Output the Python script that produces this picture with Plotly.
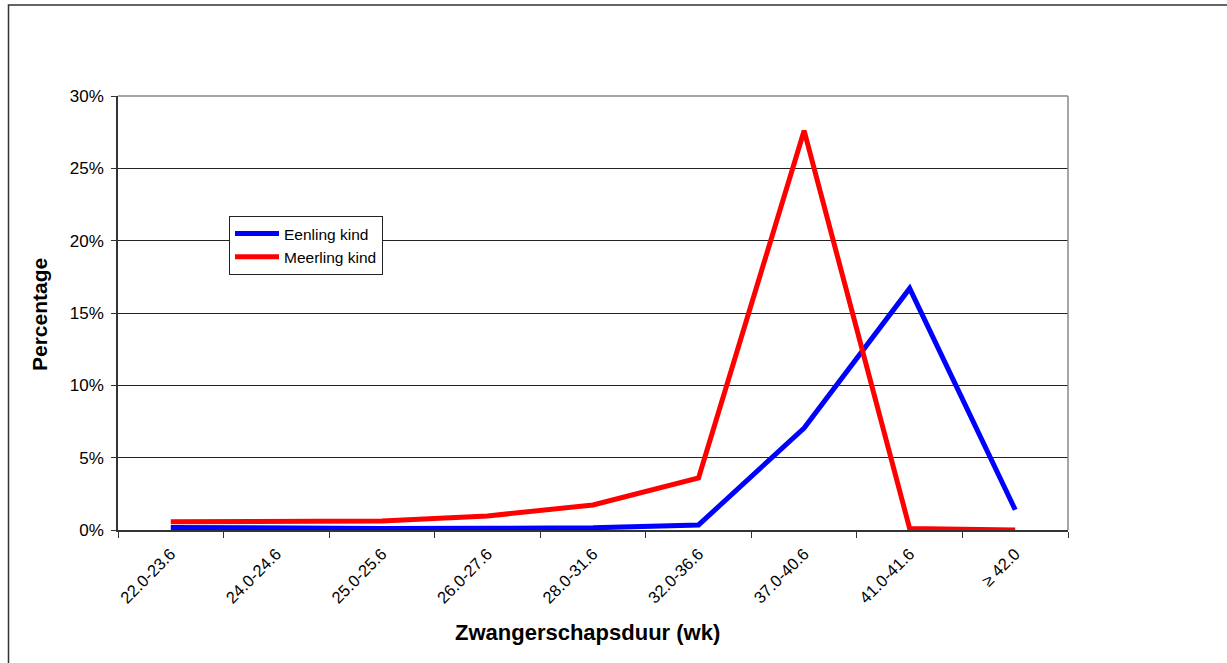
import plotly.graph_objects as go

categories = ["22.0-23.6", "24.0-24.6", "25.0-25.6", "26.0-27.6", "28.0-31.6",
              "32.0-36.6", "37.0-40.6", "41.0-41.6", "\u2265 42.0"]
eenling = [0.18, 0.12, 0.1, 0.12, 0.15, 0.35, 7.05, 16.7, 1.4]
meerling = [0.57, 0.62, 0.62, 0.97, 1.73, 3.6, 27.6, 0.1, 0.0]
y_ticks = [0, 5, 10, 15, 20, 25, 30]
y_ticktext = ["0%", "5%", "10%", "15%", "20%", "25%", "30%"]

W, H = 1227, 663
L, R, T, B = 118, 1068, 96, 530

def px_x(px):
    return (px - L) / (R - L)

def px_y(py):
    return (B - py) / (B - T)

fig = go.Figure()
fig.add_trace(go.Scatter(x=categories, y=eenling, mode="lines", name="Eenling kind",
                         line=dict(color="#0000FF", width=5)))
fig.add_trace(go.Scatter(x=categories, y=meerling, mode="lines", name="Meerling kind",
                         line=dict(color="#FF0000", width=5)))

fig.update_layout(
    width=W, height=H,
    margin=dict(l=L, r=W - R, t=T, b=H - B, autoexpand=False),
    paper_bgcolor="white", plot_bgcolor="white",
    font=dict(family="Arial, Liberation Sans, sans-serif", size=16, color="black"),
    showlegend=True,
    legend=dict(x=px_x(229), y=px_y(216), xanchor="left", yanchor="top",
                bordercolor="#222222", borderwidth=1, bgcolor="white",
                font=dict(size=15.5), tracegroupgap=0,
                itemwidth=44, entrywidth=150, entrywidthmode="pixels"),
    xaxis=dict(type="category", range=[-0.5, 8.5], tickangle=-45,
               tickson="boundaries", ticks="outside", ticklen=6, tickcolor="#333333",
               showline=True, linecolor="#333333", linewidth=1.5,
               showgrid=False, tickfont=dict(size=16.5), ticklabelstandoff=6),
    yaxis=dict(range=[0, 30], tickvals=y_ticks, ticktext=y_ticktext,
               ticks="outside", ticklen=5, tickcolor="#333333",
               showline=True, linecolor="#333333", linewidth=1.5,
               showgrid=True, gridcolor="#222222", gridwidth=1,
               zeroline=False, tickfont=dict(size=17), ticklabelstandoff=4),
    shapes=[
        # outer chart border
        dict(type="rect", xref="paper", yref="paper",
             x0=px_x(8.5), x1=px_x(1300), y0=px_y(700), y1=px_y(5),
             line=dict(color="#333333", width=1.5), layer="below"),
        # plot area right/top border (gray)
        dict(type="line", xref="paper", yref="paper", x0=1, x1=1, y0=0, y1=1,
             line=dict(color="#888888", width=1.5)),
        dict(type="line", xref="paper", yref="paper", x0=0, x1=1, y0=1, y1=1,
             line=dict(color="#888888", width=1.5)),
    ],
    annotations=[
        dict(text="<b>Zwangerschapsduur (wk)</b>", xref="paper", yref="paper",
             x=px_x(587), y=px_y(632), showarrow=False, font=dict(size=22),
             xanchor="center", yanchor="middle"),
        dict(text="<b>Percentage</b>", xref="paper", yref="paper",
             x=px_x(39), y=px_y(315), showarrow=False, font=dict(size=21),
             textangle=-90, xanchor="center", yanchor="middle"),
    ],
)

fig.write_html("out.html", config={"displayModeBar": False},
               post_script="document.body.style.margin='0';")
